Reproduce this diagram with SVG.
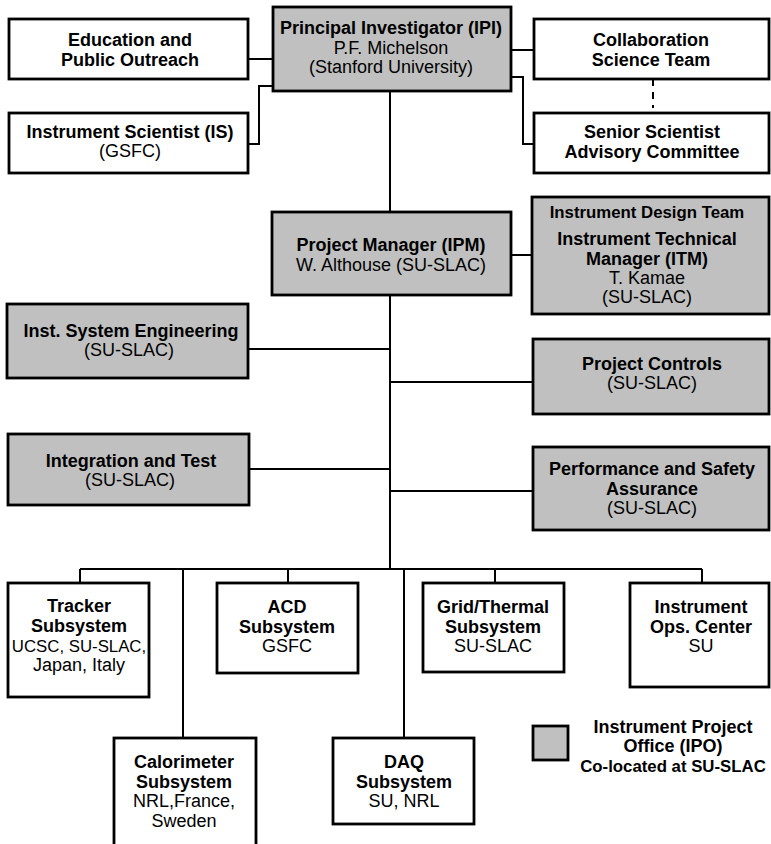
<svg xmlns="http://www.w3.org/2000/svg" width="771" height="844" viewBox="0 0 771 844">
<style>
  rect.box { stroke: #000; stroke-width: 2.8; }
  rect.w { fill: #fff; }
  rect.g { fill: #c0c0c0; }
  text { font-family: "Liberation Sans", Arial, Helvetica, sans-serif; font-size: 18px; text-anchor: middle; fill: #000; }
  text.b { font-weight: bold; }
  text.s { font-size: 16.8px; }
  .ln { stroke: #000; stroke-width: 2; fill: none; }
  .dash { stroke: #000; stroke-width: 2; fill: none; stroke-dasharray: 7 6; }
</style>
<rect x="0" y="0" width="771" height="844" fill="#fff"/>
<g id="connectors">
  <path class="ln" d="M248,59 H273"/>
  <path class="ln" d="M248,144 H259 V86 H273"/>
  <path class="ln" d="M511,50 H534"/>
  <path class="ln" d="M511,77 H523 V144 H534"/>
  <path class="dash" d="M653,79 V108"/>
  <path class="ln" d="M390,91 V212"/>
  <path class="ln" d="M390,295 V569"/>
  <path class="ln" d="M511,255 H532"/>
  <path class="ln" d="M248,349 H390"/>
  <path class="ln" d="M390,382 H533"/>
  <path class="ln" d="M249,469 H390"/>
  <path class="ln" d="M390,491 H533"/>
  <path class="ln" d="M80,569 H702"/>
  <path class="ln" d="M80,569 V583"/>
  <path class="ln" d="M183,569 V738"/>
  <path class="ln" d="M288,569 V583"/>
  <path class="ln" d="M404,569 V738"/>
  <path class="ln" d="M495,569 V583"/>
  <path class="ln" d="M702,569 V583"/>
</g>
<g id="pi">
  <rect class="box g" x="273" y="7" width="238" height="84"/>
  <text class="b" x="391" y="34">Principal Investigator (IPI)</text>
  <text x="391" y="54">P.F. Michelson</text>
  <text x="391" y="73">(Stanford University)</text>
</g>
<g id="edu">
  <rect class="box w" x="9" y="19" width="239" height="60"/>
  <text class="b" x="130" y="46">Education and</text>
  <text class="b" x="130" y="66">Public Outreach</text>
</g>
<g id="is">
  <rect class="box w" x="9" y="113" width="239" height="60"/>
  <text class="b" x="130" y="138">Instrument Scientist (IS)</text>
  <text x="130" y="157">(GSFC)</text>
</g>
<g id="collab">
  <rect class="box w" x="534" y="19" width="235" height="60"/>
  <text class="b" x="651" y="46">Collaboration</text>
  <text class="b" x="651" y="66">Science Team</text>
</g>
<g id="senior">
  <rect class="box w" x="534" y="113" width="235" height="60"/>
  <text class="b" x="652" y="138">Senior Scientist</text>
  <text class="b" x="652" y="158">Advisory Committee</text>
</g>
<g id="pm">
  <rect class="box g" x="272" y="212" width="239" height="83"/>
  <text class="b" x="391" y="251">Project Manager (IPM)</text>
  <text x="391" y="271">W. Althouse (SU-SLAC)</text>
</g>
<g id="idt">
  <rect class="box g" x="532" y="197" width="237" height="117"/>
  <text class="b s" x="647" y="218">Instrument Design Team</text>
  <text class="b" x="647" y="245">Instrument Technical</text>
  <text class="b" x="647" y="265">Manager (ITM)</text>
  <text x="647" y="284">T. Kamae</text>
  <text x="647" y="303">(SU-SLAC)</text>
</g>
<g id="ise">
  <rect class="box g" x="7" y="304" width="241" height="74"/>
  <text class="b" x="131" y="337">Inst. System Engineering</text>
  <text x="129" y="356">(SU-SLAC)</text>
</g>
<g id="pc">
  <rect class="box g" x="533" y="339" width="236" height="75"/>
  <text class="b" x="652" y="370">Project Controls</text>
  <text x="652" y="389">(SU-SLAC)</text>
</g>
<g id="it">
  <rect class="box g" x="8" y="434" width="241" height="71"/>
  <text class="b" x="131" y="467">Integration and Test</text>
  <text x="130" y="486">(SU-SLAC)</text>
</g>
<g id="psa">
  <rect class="box g" x="533" y="447" width="236" height="83"/>
  <text class="b" x="652" y="475">Performance and Safety</text>
  <text class="b" x="652" y="495">Assurance</text>
  <text x="652" y="514">(SU-SLAC)</text>
</g>
<g id="tracker">
  <rect class="box w" x="8" y="583" width="141" height="114"/>
  <text class="b" x="79" y="612">Tracker</text>
  <text class="b" x="79" y="632">Subsystem</text>
  <text class="s" x="79" y="652">UCSC, SU-SLAC,</text>
  <text x="79" y="671">Japan, Italy</text>
</g>
<g id="acd">
  <rect class="box w" x="217" y="583" width="141" height="90"/>
  <text class="b" x="287" y="613">ACD</text>
  <text class="b" x="287" y="633">Subsystem</text>
  <text x="287" y="652">GSFC</text>
</g>
<g id="grid">
  <rect class="box w" x="423" y="583" width="141" height="89"/>
  <text class="b" x="493" y="613">Grid/Thermal</text>
  <text class="b" x="493" y="633">Subsystem</text>
  <text x="493" y="652">SU-SLAC</text>
</g>
<g id="ops">
  <rect class="box w" x="630" y="583" width="139" height="104"/>
  <text class="b" x="701" y="613">Instrument</text>
  <text class="b" x="701" y="633">Ops. Center</text>
  <text x="701" y="652">SU</text>
</g>
<g id="cal">
  <rect class="box w" x="114" y="738" width="142" height="120"/>
  <text class="b" x="184" y="768">Calorimeter</text>
  <text class="b" x="184" y="788">Subsystem</text>
  <text x="184" y="807">NRL,France,</text>
  <text x="184" y="827">Sweden</text>
</g>
<g id="daq">
  <rect class="box w" x="333" y="738" width="141" height="86"/>
  <text class="b" x="404" y="768">DAQ</text>
  <text class="b" x="404" y="788">Subsystem</text>
  <text x="404" y="807">SU, NRL</text>
</g>
<g id="legend">
  <rect class="box g" x="533" y="726" width="35" height="34"/>
  <text class="b" x="673" y="733">Instrument Project</text>
  <text class="b" x="673" y="752">Office (IPO)</text>
  <text class="b" x="673" y="772" style="font-size:16.8px">Co-located at SU-SLAC</text>
</g>
</svg>
